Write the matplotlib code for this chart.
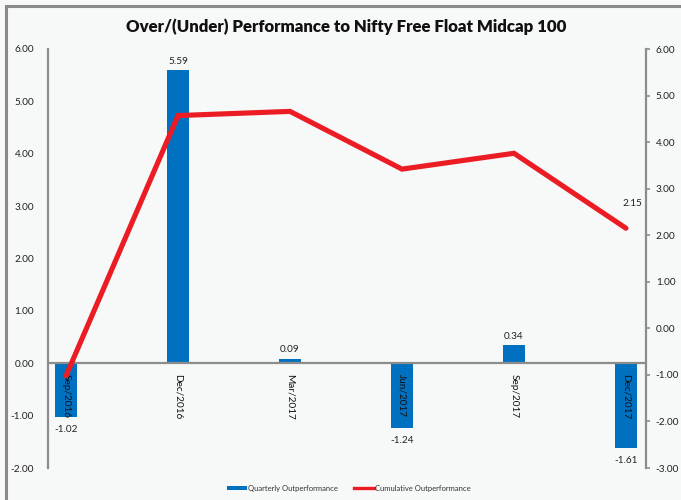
import matplotlib
matplotlib.use("Agg")
import matplotlib.pyplot as plt
from matplotlib.patches import Rectangle, Patch
from matplotlib.lines import Line2D

categories = ["Sep/2016", "Dec/2016", "Mar/2017", "Jun/2017", "Sep/2017", "Dec/2017"]
quarterly = [-1.02, 5.59, 0.09, -1.24, 0.34, -1.61]
cumulative = [-1.02, 4.57, 4.66, 3.42, 3.76, 2.15]
left_ticks = [-2, -1, 0, 1, 2, 3, 4, 5, 6]
right_ticks = [-3, -2, -1, 0, 1, 2, 3, 4, 5, 6]

FONT = ["Lato", "DejaVu Sans"]
plt.rcParams['font.family'] = FONT

BAR = "#0070C0"
RED = "#EC1C24"
GRAY = "#8C8C8C"
BG = "#F7F8F8"

fig = plt.figure(figsize=(6.81, 5.0), dpi=100, facecolor=BG)
# border frame
fig.patches.append(Rectangle((6/681, -0.1), 1.2, (494+50)/500, transform=fig.transFigure,
                             fill=False, edgecolor="#8A8A8A", linewidth=2.2))

ax = fig.add_axes([48/681, 1-468/500, (646-48)/681, (468-49)/500])
ax.set_facecolor(BG)
x = list(range(len(categories)))
ax.bar(x, quarterly, width=0.2, color=BAR, zorder=2)
ax.set_xlim(-0.161, 5.179)
ax.set_ylim(-2, 6)
ax.set_yticks(left_ticks)
ax.set_yticklabels([f"{v:.2f}" for v in left_ticks])
ax.tick_params(axis='y', length=0, pad=10, labelsize=7.2, labelcolor="#222222")
ax.set_xticks([])
for s in ["top", "bottom", "right"]:
    ax.spines[s].set_visible(False)
ax.spines["left"].set_color(GRAY)
ax.spines["left"].set_linewidth(1.6)
ax.axhline(0, color=GRAY, linewidth=1.6, zorder=3)

# category labels
for i, c in enumerate(categories):
    ax.annotate(c, (i, 0), xytext=(0, -8), textcoords="offset points",
                rotation=-90, ha="center", va="top", fontsize=7.2, color="#111111", zorder=5)

# bar data labels
for i, v in enumerate(quarterly):
    if v >= 0:
        ax.annotate(f"{v:.2f}", (i, v), xytext=(0, 6.5), textcoords="offset points",
                    ha="center", va="center", fontsize=7.2, color="#222222")
    else:
        ax.annotate(f"{v:.2f}", (i, v), xytext=(0, -9), textcoords="offset points",
                    ha="center", va="center", fontsize=7.2, color="#222222")

ax2 = ax.twinx()
ax2.plot(x, cumulative, color=RED, linewidth=3.7, solid_capstyle="round",
         solid_joinstyle="miter", zorder=4)
ax2.set_ylim(-3, 6)
ax2.set_yticks(right_ticks)
ax2.set_yticklabels([f"{v:.2f}" for v in right_ticks])
ax2.tick_params(axis='y', length=3, width=1.2, color=GRAY, pad=4, labelsize=7.2, labelcolor="#222222")
for s in ["top", "bottom", "left"]:
    ax2.spines[s].set_visible(False)
ax2.spines["right"].set_color(GRAY)
ax2.spines["right"].set_linewidth(1.6)
ax2.annotate(f"{cumulative[-1]:.2f}", (x[-1], cumulative[-1]), xytext=(5, 18),
             textcoords="offset points", ha="center", va="center", fontsize=7.2, color="#222222")

fig.text(346.5/681, 1-27/500, "Over/(Under) Performance to Nifty Free Float Midcap 100",
         ha="center", va="center", fontsize=12.1, fontweight="heavy", color="#111111")

handles = [Patch(facecolor=BAR, edgecolor="none"),
           Line2D([0], [0], color=RED, linewidth=2.4)]
leg = fig.legend(handles, ["Quarterly Outperformance", "Cumulative Outperformance"],
                 loc="center", bbox_to_anchor=(349/681, 1-488/500), ncol=2, frameon=False,
                 fontsize=5.5, handlelength=2.6, handleheight=0.5, handletextpad=0.15,
                 columnspacing=2.1)
for t in leg.get_texts():
    t.set_color("#333333")

fig.savefig("out.png", dpi=100, facecolor=BG)
